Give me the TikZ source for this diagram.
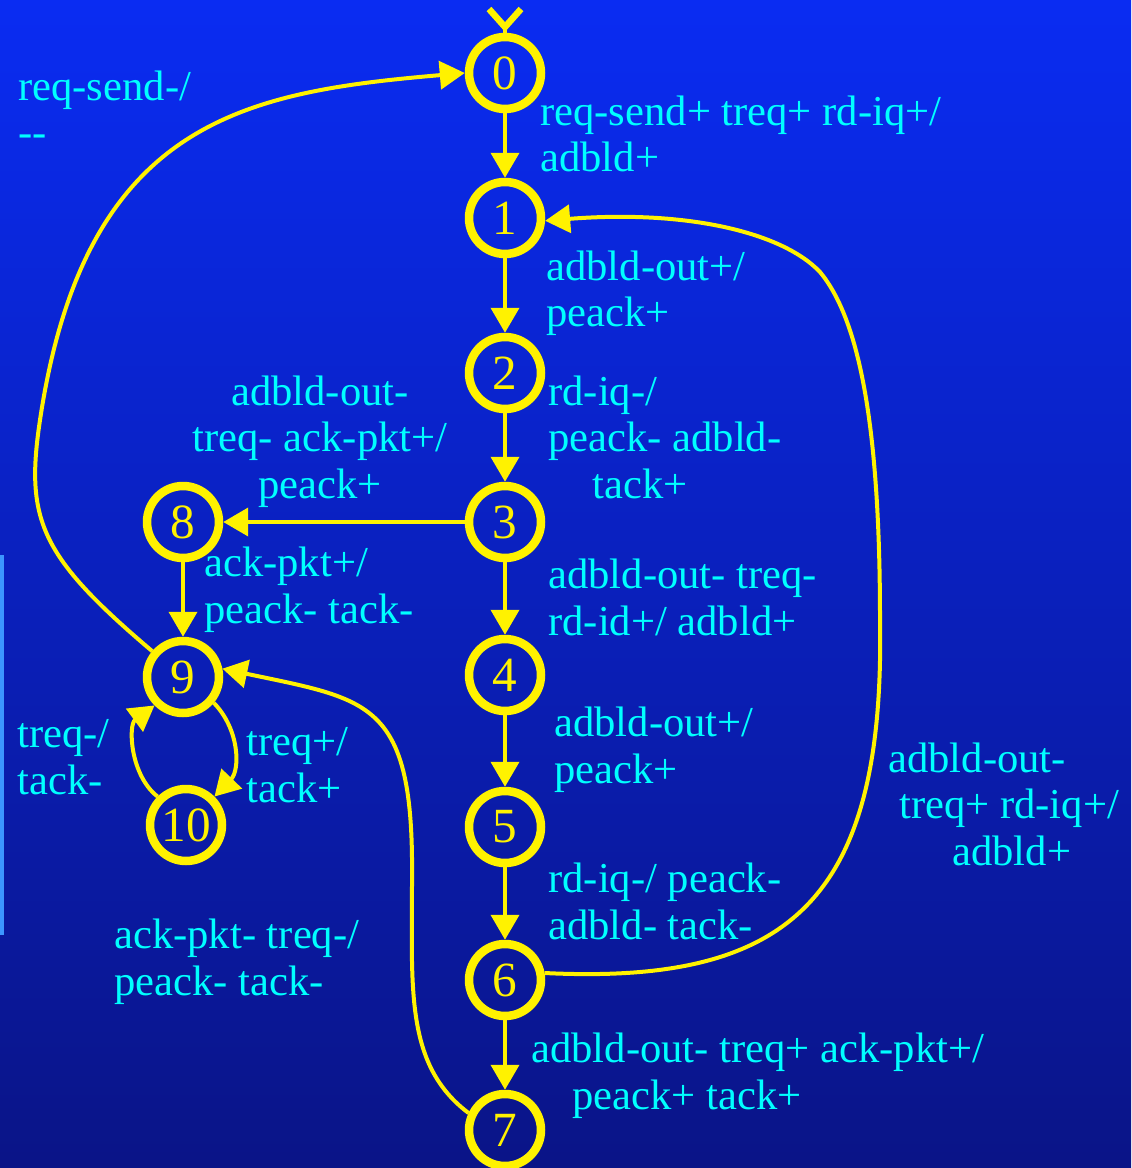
\documentclass[tikz,border=0pt]{standalone}
\usepackage{fontspec}
\setmainfont{Liberation Serif}
\usetikzlibrary{arrows.meta}
\definecolor{bgtop}{RGB}{10,44,242}
\definecolor{bgbot}{RGB}{10,20,135}
\definecolor{labcyan}{RGB}{0,255,255}
\definecolor{sideblue}{RGB}{60,150,255}
\begin{document}
\begin{tikzpicture}
  [x=0.02cm,y=-0.02cm,every node/.style={inner sep=0pt},
   stnode/.style={circle,draw=yellow,line width=0.17cm,minimum size=1.44cm,text=yellow,font=\fontsize{28}{30}\selectfont},
   lab/.style={text=labcyan,align=left,anchor=base west,font=\fontsize{24.25}{26.2}\selectfont},
   trans/.style={draw=yellow,line width=0.08cm,-{Triangle[length=0.5cm,width=0.56cm]}}]
  \shade[top color=bgtop,bottom color=bgbot] (0,0) rectangle (1131,1168);
  \useasboundingbox (0,0) rectangle (1131,1168);
  \draw[sideblue,line width=0.08cm] (2,555) -- (2,935);

  \node[stnode] (n0) at (505,73) {0};
  \node[stnode] (n1) at (505,218) {1};
  \node[stnode] (n2) at (505,373) {2};
  \node[stnode] (n3) at (505,522) {3};
  \node[stnode] (n4) at (505,675) {4};
  \node[stnode] (n5) at (505,827) {5};
  \node[stnode] (n6) at (505,980) {6};
  \node[stnode] (n7) at (505,1130) {7};
  \node[stnode] (n8) at (183,522) {8};
  \node[stnode] (n9) at (183,677) {9};
  \node[stnode] (n10) at (186,825) {10};

  \coordinate (initv) at (505,27);
  \coordinate (initl) at (489,9);
  \coordinate (initr) at (521,9);
  \draw[yellow,line width=0.13cm] (initl) -- (initv) -- (initr);
  \draw[yellow,line width=0.08cm] (initv) -- (n0);

  \foreach \from/\to in {n0/n1, n1/n2, n2/n3, n3/n4, n4/n5, n5/n6, n6/n7, n3/n8, n8/n9}
    \draw[trans] (\from) -- (\to);

  \draw[trans] (n9.140) .. controls (40,556) and (25,520) .. (40,420)
    .. controls (85,120) and (245,92) .. (n0.west);
  \draw[trans] (n6.10) .. controls (790,985) and (885,900) .. (880,620)
    .. controls (880,420) and (858,318) .. (820,272)
    .. controls (780,230) and (680,210) .. (n1.-4);
  \draw[trans] (n7.155) .. controls (405,1065) and (412,990) .. (412,880)
    .. controls (414,700) and (370,700) .. (n9.12);
  \draw[trans] (n9.-40) .. controls (240,730) and (240,770) .. (n10.45);
  \draw[trans] (n10.135) .. controls (130,775) and (128,725) .. (n9.-135);

  % base anchor = baseline of the last line
  \node[lab] (l01) at (540,172) {req-send+ treq+ rd-iq+/\\adbld+};
  \node[lab] (l12) at (546,327) {adbld-out+/\\peack+};
  \node[lab] (l23) at (548,498) {rd-iq-/\\peack- adbld-\\\hspace*{0.88cm}tack+};
  \node[lab,align=center,anchor=base] (l38) at (320,498) {adbld-out-\\treq- ack-pkt+/\\peack+};
  \node[lab] (l89) at (204,623) {ack-pkt+/\\peack- tack-};
  \node[lab] (l34) at (548,635) {adbld-out- treq-\\rd-id+/ adbld+};
  \node[lab] (l45) at (554,783) {adbld-out+/\\peack+};
  \node[lab] (l56) at (548,939) {rd-iq-/ peack-\\adbld- tack-};
  \node[lab] (l67) at (531,1109) {adbld-out- treq+ ack-pkt+/\\\hspace*{0.82cm}peack+ tack+};
  \node[lab] (l61) at (888,865) {adbld-out-\\\hspace*{0.22cm}treq+ rd-iq+/\\\hspace*{1.28cm}adbld+};
  \node[lab] (l90) at (18,147) {req-send-/\\-{}-};
  \node[lab] (l910) at (246,802) {treq+/\\tack+};
  \node[lab] (l109) at (17,794) {treq-/\\tack-};
  \node[lab] (l79) at (114,995) {ack-pkt- treq-/\\peack- tack-};
\end{tikzpicture}
\end{document}
